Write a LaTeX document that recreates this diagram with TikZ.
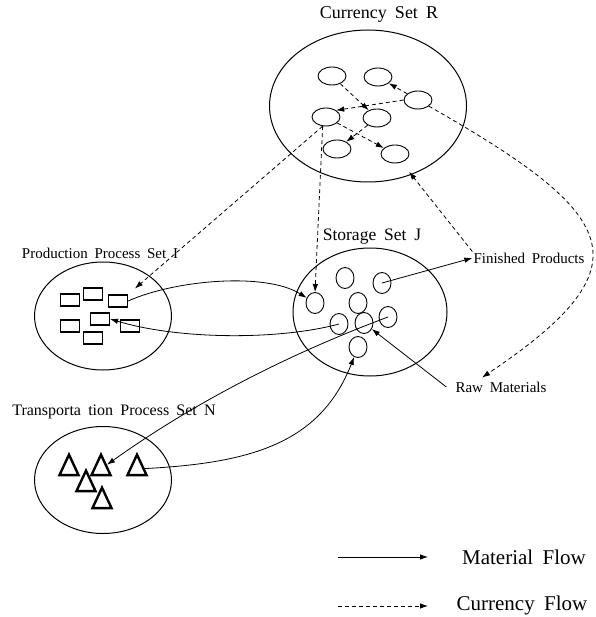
\documentclass[tikz,border=0pt]{standalone}
\usepackage{fontspec}
\setmainfont[WordSpace=1.8]{Liberation Serif}
\usetikzlibrary{shapes.geometric, arrows.meta}

\tikzset{
  bigset/.style={draw, ellipse, inner sep=0pt, line width=1pt},
  coin/.style={draw, ellipse, minimum width=28pt, minimum height=18pt, inner sep=0pt, line width=0.9pt},
  store/.style={draw, ellipse, minimum width=18pt, minimum height=21pt, inner sep=0pt, line width=0.9pt},
  proc/.style={draw, rectangle, minimum width=19pt, minimum height=12pt, inner sep=0pt, line width=1.2pt},
  truck/.style={draw, isosceles triangle, isosceles triangle apex angle=50, shape border rotate=90, minimum size=19pt, inner sep=0pt, line width=2.4pt},
  setlabel/.style={font=\fontsize{16}{19}\selectfont, inner sep=1pt},
  itemlabel/.style={font=\fontsize{15}{18}\selectfont, inner sep=1pt},
  keylabel/.style={font=\fontsize{21}{25}\selectfont, inner sep=1pt},
  matflow/.style={-{Latex[length=8pt,width=5.5pt]}, line width=0.8pt},
  curflow/.style={-{Latex[length=8pt,width=5.5pt]}, line width=0.8pt, dash pattern=on 4pt off 3pt}
}

\begin{document}
\begin{tikzpicture}[x=1pt,y=-1pt]
\useasboundingbox (0,0) rectangle (595,617);

\node[bigset, minimum width=197pt, minimum height=152pt] (setR) at (368,106) {};
\node[bigset, minimum width=137pt, minimum height=108pt] (setI) at (103,316) {};
\node[bigset, minimum width=154pt, minimum height=128pt] (setJ) at (370,312) {};
\node[bigset, minimum width=137pt, minimum height=107pt] (setN) at (103,480) {};
\node[setlabel, font=\fontsize{18}{21}\selectfont] (labR) at (379,14) {Currency Set R};
\node[setlabel, font=\fontsize{15}{18}\selectfont] (labI) at (100,253) {Production Process Set I};
\node[setlabel, font=\fontsize{17.5}{21}\selectfont] (labJ) at (372,237) {Storage Set J};
\node[setlabel] (labN) at (114,412) {Transporta tion Process Set N};
\node[itemlabel] (fp) at (529,258) {Finished Products};
\node[itemlabel] (rm) at (501,387) {Raw Materials};

\node[coin] (r1) at (332,76) {};
\node[coin] (r2) at (378,77) {};
\node[coin] (r3) at (418,100) {};
\node[coin] (r4) at (326,117) {};
\node[coin] (r5) at (377,118) {};
\node[coin] (r6) at (337,149) {};
\node[coin] (r7) at (395,154) {};

\node[proc] (p1) at (70,300) {};
\node[proc] (p2) at (93,294) {};
\node[proc] (p3) at (118,301) {};
\node[proc] (p4) at (70,326) {};
\node[proc] (p5) at (100,319) {};
\node[proc] (p6) at (130,326) {};
\node[proc] (p7) at (93,338) {};

\node[store] (s1) at (315,303) {};
\node[store] (s2) at (345,278) {};
\node[store] (s3) at (382,283) {};
\node[store] (s4) at (358,303) {};
\node[store] (s5) at (339,324) {};
\node[store] (s6) at (364,323) {};
\node[store] (s7) at (388,317) {};
\node[store] (s8) at (358,347) {};

\node[truck] (t1) at (69,469) {};
\node[truck] (t2) at (101,469) {};
\node[truck] (t3) at (137,469) {};
\node[truck] (t4) at (86,485) {};
\node[truck] (t5) at (102,502) {};

\draw[curflow] (r1) -- (r5);
\draw[curflow] (r3) -- (r2);
\draw[curflow] (r3.west) -- (r4.north east);
\draw[curflow] (r4) -- (r7);
\draw[curflow] (r5) -- (r6);
\draw[curflow, shorten >=9pt] (r4.250) -- (p3.north east);
\draw[curflow] (r4.250) -- (s1.north);
\draw[curflow, shorten >=12pt] (fp.north west) -- (r7);
\draw[curflow] (r3) .. controls (620,215) and (650,265) .. ([xshift=-19pt,yshift=3pt]rm.north);

\draw[matflow] (s3.center) -- (fp.west);
\draw[matflow] ([xshift=-8pt]rm.west) -- (s6);
\draw[matflow] (s7.center) .. controls (289,354) and (195,402) .. (t2);
\draw[matflow] (t3) .. controls (250,463) and (320,444) .. (s8);
\draw[matflow] (p3.east) .. controls (175,280) and (265,272) .. (s1);
\draw[matflow] (s5.center) .. controls (280,340) and (180,340) .. (p5.east);

\coordinate (m0) at (338,557);
\coordinate (m1) at (428,557);
\coordinate (c0) at (338,606);
\coordinate (c1) at (428,606);
\draw[matflow] (m0) -- (m1);
\draw[curflow] (c0) -- (c1);
\node[keylabel] (keyM) at (524,557) {Material Flow};
\node[keylabel] (keyC) at (522,605) {Currency Flow};
\end{tikzpicture}
\end{document}
